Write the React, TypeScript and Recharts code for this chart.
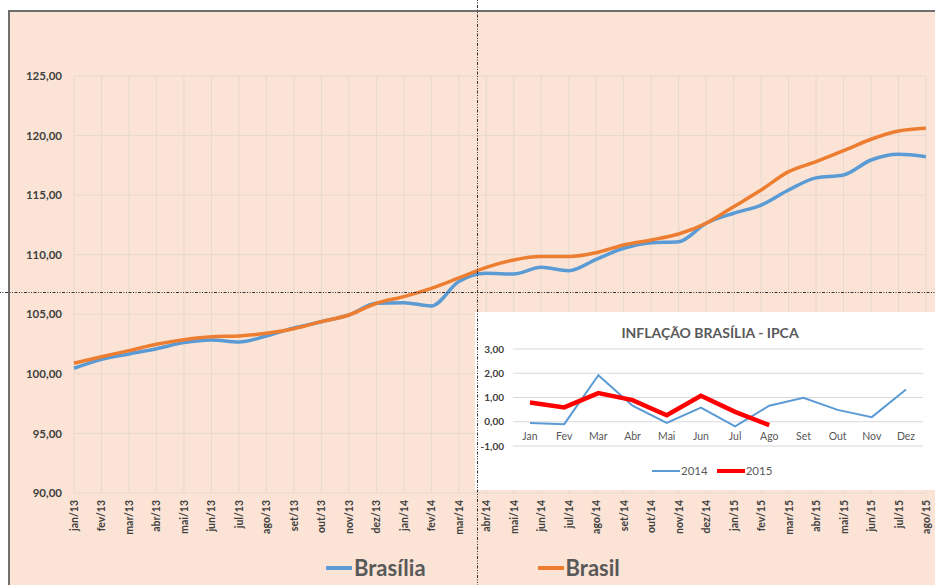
import React from 'react';
import { LineChart, Line, XAxis, YAxis, CartesianGrid } from 'recharts';

const months = [
  'jan/13', 'fev/13', 'mar/13', 'abr/13', 'mai/13', 'jun/13', 'jul/13', 'ago/13',
  'set/13', 'out/13', 'nov/13', 'dez/13', 'jan/14', 'fev/14', 'mar/14', 'abr/14',
  'mai/14', 'jun/14', 'jul/14', 'ago/14', 'set/14', 'out/14', 'nov/14', 'dez/14',
  'jan/15', 'fev/15', 'mar/15', 'abr/15', 'mai/15', 'jun/15', 'jul/15', 'ago/15'
];

const brasilia = [
  100.47, 101.22, 101.67, 102.11, 102.62, 102.84, 102.67, 103.18,
  103.85, 104.38, 104.94, 105.92, 105.97, 105.7, 107.75, 108.44,
  108.38, 108.94, 108.66, 109.61, 110.54, 111.01, 111.09, 112.64,
  113.48, 114.17, 115.43, 116.45, 116.69, 117.95, 118.43, 118.23
];

const brasil = [
  100.89, 101.44, 101.95, 102.48, 102.87, 103.12, 103.18, 103.4,
  103.79, 104.38, 104.94, 105.92, 106.48, 107.18, 108.05, 108.94,
  109.56, 109.84, 109.84, 110.17, 110.82, 111.24, 111.74, 112.64,
  114.03, 115.43, 116.97, 117.81, 118.73, 119.69, 120.38, 120.61
];

const mainTicks = [90, 95, 100, 105, 110, 115, 120, 125];

const ipcaMonths = ['Jan', 'Fev', 'Mar', 'Abr', 'Mai', 'Jun', 'Jul', 'Ago', 'Set', 'Out', 'Nov', 'Dez'];
const ipca2014 = [-0.05, -0.1, 1.92, 0.66, -0.05, 0.58, -0.19, 0.66, 0.99, 0.49, 0.19, 1.33];
const ipca2015 = [0.79, 0.59, 1.18, 0.89, 0.27, 1.07, 0.41, -0.14];
const ipcaTicks = [-1, 0, 1, 2, 3];

const mainSeries = [
  { key: 'brasilia', name: 'Brasília', color: '#5B9BD5' },
  { key: 'brasil', name: 'Brasil', color: '#ED7D31' }
];
const ipcaSeries = [
  { key: 'y2014', name: '2014', color: '#5B9BD5', width: 2 },
  { key: 'y2015', name: '2015', color: '#FF0000', width: 4.5 }
];

const mainData = months.map((m, i) => ({ month: m, brasilia: brasilia[i], brasil: brasil[i] }));
const ipcaData = ipcaMonths.map((m, i) => ({
  month: m,
  y2014: ipca2014[i],
  y2015: i < ipca2015.length ? ipca2015[i] : null
}));

const FONT = 'Lato, "Open Sans", sans-serif';
const fmt = (v: number) => v.toFixed(2).replace('.', ',');

const MonthTick = (props: any) => {
  const { x, y, payload } = props;
  return (
    <text
      transform={`translate(${x},${y}) rotate(-90)`}
      textAnchor="end"
      dominantBaseline="central"
      fontSize={10.5}
      fontWeight={700}
      fill="#404040"
      fontFamily={FONT}
    >
      {payload.value}
    </text>
  );
};

// category labels sit next to the zero line, not at the bottom of the plot
const IpcaTick = (props: any) => {
  const { x, y, payload } = props;
  return (
    <text x={x} y={y - 10} textAnchor="middle" dominantBaseline="central" fontSize={10.5} fill="#595959" fontFamily={FONT}>
      {payload.value}
    </text>
  );
};

export default function App() {
  return (
    <div style={{ position: 'absolute', left: 0, top: 0, width: 935, height: 585, overflow: 'hidden', background: '#fff', fontFamily: FONT }}>
      <div
        style={{
          position: 'absolute', left: 8, top: 10, width: 940, height: 590,
          background: '#FBE4D5', borderTop: '2px solid #6F6F6F', borderLeft: '2px solid #6F6F6F'
        }}
      />
      <div style={{ position: 'absolute', left: 0, top: 0 }}>
        <LineChart width={935} height={585} data={mainData} margin={{ top: 76, right: 9, bottom: 42, left: 0 }}>
          <CartesianGrid stroke="#E6D9CF" />
          <XAxis
            dataKey="month"
            interval={0}
            tick={<MonthTick />}
            tickSize={0}
            tickMargin={7}
            axisLine={false}
            height={50}
          />
          <YAxis
            domain={[90, 125]}
            ticks={mainTicks}
            tickFormatter={fmt}
            width={74}
            tickSize={0}
            tickMargin={12}
            axisLine={false}
            tick={{ fontSize: 11.5, fontWeight: 700, fill: '#404040', fontFamily: FONT }}
          />
          {mainSeries.map((s) => (
            <Line
              key={s.key}
              dataKey={s.key}
              name={s.name}
              type="monotone"
              stroke={s.color}
              strokeWidth={3.5}
              dot={false}
              isAnimationActive={false}
            />
          ))}
        </LineChart>
      </div>

      <div style={{ position: 'absolute', left: 326, top: 554, display: 'flex', alignItems: 'center', gap: 112 }}>
        {mainSeries.map((s) => (
          <div key={s.key} style={{ display: 'flex', alignItems: 'center' }}>
            <div style={{ width: 26, height: 3.5, background: s.color, marginRight: 2 }} />
            <span style={{ fontSize: 22, fontWeight: 700, color: '#595959', lineHeight: '28px' }}>{s.name}</span>
          </div>
        ))}
      </div>

      <div style={{ position: 'absolute', left: 475, top: 312, width: 470, height: 178, background: '#fff' }}>
        <div style={{ position: 'absolute', left: 35, top: 12, width: 400, textAlign: 'center', fontSize: 14, fontWeight: 700, color: '#595959', lineHeight: '18px' }}>
          INFLAÇÃO BRASÍLIA - IPCA
        </div>
        <LineChart width={460} height={178} data={ipcaData} margin={{ top: 37, right: 12, bottom: 24, left: 0 }}>
          <CartesianGrid stroke="#D9D9D9" vertical={false} />
          <XAxis
            dataKey="month"
            interval={0}
            padding={{ left: 17, right: 17 }}
            tick={<IpcaTick />}
            tickSize={0}
            tickMargin={0}
            axisLine={false}
            height={20}
          />
          <YAxis
            domain={[-1, 3]}
            ticks={ipcaTicks}
            tickFormatter={fmt}
            width={38}
            tickSize={0}
            tickMargin={9}
            axisLine={false}
            tick={{ fontSize: 10, fontWeight: 700, fill: '#404040', fontFamily: FONT }}
          />
          {ipcaSeries.map((s) => (
            <Line
              key={s.key}
              dataKey={s.key}
              name={s.name}
              type="linear"
              stroke={s.color}
              strokeWidth={s.width}
              dot={false}
              connectNulls={false}
              isAnimationActive={false}
            />
          ))}
        </LineChart>
        <div style={{ position: 'absolute', left: 177, top: 151, display: 'flex', alignItems: 'center', gap: 9 }}>
          {ipcaSeries.map((s) => (
            <div key={s.key} style={{ display: 'flex', alignItems: 'center' }}>
              <div style={{ width: 28, height: s.width, background: s.color, marginRight: 1 }} />
              <span style={{ fontSize: 11.5, color: '#595959', lineHeight: '16px' }}>{s.name}</span>
            </div>
          ))}
        </div>
      </div>

      <svg width={935} height={585} style={{ position: 'absolute', left: 0, top: 0, pointerEvents: 'none' }}>
        <line x1={477.5} y1={0} x2={477.5} y2={585} stroke="#333" strokeWidth={1} strokeDasharray="1 1.5 1 1.5 3 1.5" />
        <line x1={0} y1={292.5} x2={935} y2={292.5} stroke="#333" strokeWidth={1} strokeDasharray="1 1.5 1 1.5 3 1.5" />
      </svg>
    </div>
  );
}
